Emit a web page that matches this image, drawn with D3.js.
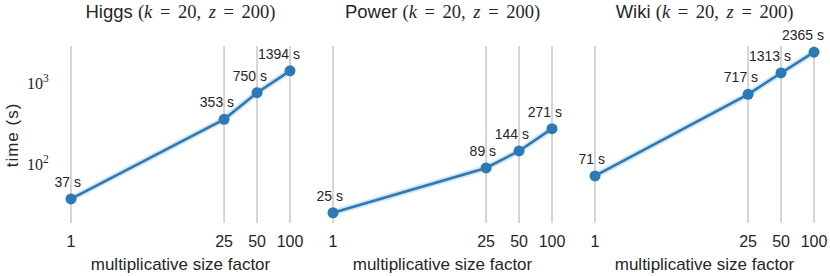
<!DOCTYPE html>
<html>
<head>
  <script src="https://d3js.org/d3.v7.min.js"></script>
  <style>
    body { margin: 0; background: #fff; overflow: hidden; }
    text { font-family: "Liberation Sans", Arial, sans-serif; fill: #262626; }
    .math { font-family: "Liberation Serif", "DejaVu Serif", serif; }
  </style>
  <title>Runtime vs size factor</title>
</head>
<body>
  <script>
    // data
    const factors = [1, 25, 50, 100];
    const datasetNames = ["Higgs", "Power", "Wiki"];
    const higgsTimes = [37, 353, 750, 1394];
    const powerTimes = [25, 89, 144, 271];
    const wikiTimes = [71, 717, 1313, 2365];
    const yTicks = [100, 1000];

    const allTimes = [higgsTimes, powerTimes, wikiTimes];

    const width = 830, height = 276;
    const panelLeft = [71, 333, 595];   // x position of factor 1
    const panelW = 219;                 // 1 -> 100
    const plotTop = 46, plotBottom = 223;
    const blue = "#2a7ab9";

    const svg = d3.select("body").append("svg")
      .attr("width", width)
      .attr("height", height);

    // shared log y scale
    const y = d3.scaleLog()
      .domain([18.7, 2820])
      .range([plotBottom, plotTop]);

    // y tick labels as 10^n
    const yAxis = svg.append("g");
    yTicks.forEach(function (t) {
      const lbl = yAxis.append("text")
        .attr("class", "math")
        .attr("x", 27)
        .attr("y", y(t) + 6)
        .style("font-size", "16px");
      lbl.append("tspan").text("10");
      lbl.append("tspan")
        .attr("dy", -7)
        .style("font-size", "11.5px")
        .text(Math.round(Math.log10(t)));
    });

    svg.append("text")
      .attr("transform", "translate(18,135) rotate(-90)")
      .attr("text-anchor", "middle")
      .style("font-size", "17px")
      .style("letter-spacing", "1px")
      .text("time (s)");

    datasetNames.forEach(function (name, i) {
      const times = allTimes[i];
      const x = d3.scaleLog()
        .domain([1, 100])
        .range([panelLeft[i], panelLeft[i] + panelW]);

      const g = svg.append("g");

      // vertical gridlines
      g.selectAll(".grid")
        .data(factors)
        .enter()
        .append("line")
        .attr("x1", function (d) { return x(d); })
        .attr("x2", function (d) { return x(d); })
        .attr("y1", plotTop)
        .attr("y2", plotBottom)
        .attr("stroke", "#cccccc")
        .attr("stroke-width", 1.6);

      // x tick labels
      g.selectAll(".xt")
        .data(factors)
        .enter()
        .append("text")
        .attr("x", function (d) { return x(d); })
        .attr("y", 246.5)
        .attr("text-anchor", "middle")
        .style("font-size", "16px")
        .text(function (d) { return d; });

      g.append("text")
        .attr("x", x(1) + panelW / 2)
        .attr("y", 270)
        .attr("text-anchor", "middle")
        .style("font-size", "17px")
        .text("multiplicative size factor");

      // title
      const title = g.append("text")
        .attr("x", x(1) + panelW / 2)
        .attr("y", 18)
        .attr("text-anchor", "middle")
        .style("font-size", "18.5px");
      title.append("tspan").text(name + " ");
      const m = title.append("tspan").attr("class", "math")
        .style("word-spacing", "3px");
      m.append("tspan").text("(");
      m.append("tspan").style("font-style", "italic").text("k");
      m.append("tspan").text(" = 20, ");
      m.append("tspan").style("font-style", "italic").text("z");
      m.append("tspan").text(" = 200)");

      const pts = factors.map(function (f, j) { return [f, times[j]]; });

      const line = d3.line()
        .x(function (d) { return x(d[0]); })
        .y(function (d) { return y(d[1]); });

      // faint band around the line
      g.append("path")
        .datum(pts)
        .attr("fill", "none")
        .attr("stroke", blue)
        .attr("stroke-opacity", 0.2)
        .attr("stroke-width", 6)
        .attr("d", line);

      g.append("path")
        .datum(pts)
        .attr("fill", "none")
        .attr("stroke", blue)
        .attr("stroke-width", 2.6)
        .attr("d", line);

      g.selectAll(".pt")
        .data(pts)
        .enter()
        .append("circle")
        .attr("cx", function (d) { return x(d[0]); })
        .attr("cy", function (d) { return y(d[1]); })
        .attr("r", 5.5)
        .attr("fill", blue);

      g.selectAll(".lbl")
        .data(pts)
        .enter()
        .append("text")
        .attr("x", function (d) { return x(d[0]) + 10; })
        .attr("y", function (d) { return y(d[1]) - 12; })
        .attr("text-anchor", "end")
        .style("font-size", "14px")
        .text(function (d) { return d[1] + " s"; });
    });
  </script>
</body>
</html>
